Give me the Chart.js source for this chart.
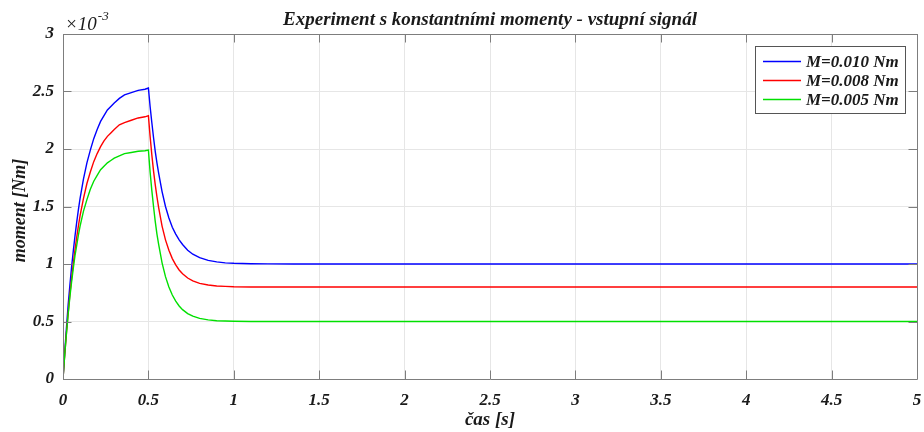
<!DOCTYPE html>
<html>
<head>
<meta charset="utf-8">
<script src="https://cdn.jsdelivr.net/npm/chart.js@4/dist/chart.umd.min.js"></script>
<style>
  html, body { margin: 0; padding: 0; background: #ffffff; }
  #wrap { width: 924px; height: 432px; }
</style>
</head>
<body>
<div id="wrap"><canvas id="c" width="924" height="432"></canvas></div>
<script>
// Sampling instants [s]
const time = [
  0, 0.01, 0.02, 0.03, 0.04, 0.05, 0.06, 0.07, 0.08, 0.09, 0.10, 0.12, 0.14, 0.16, 0.18,
  0.20, 0.22, 0.24, 0.26, 0.28, 0.30, 0.33, 0.36, 0.40, 0.44, 0.48, 0.50,
  0.51, 0.52, 0.53, 0.54, 0.55, 0.56, 0.58, 0.60, 0.62, 0.64, 0.66, 0.68, 0.70,
  0.73, 0.76, 0.80, 0.85, 0.90, 0.95, 1.00, 1.10, 1.20, 1.35, 1.50, 2.00, 3.00, 4.00, 5.00
];

// Input torque in units of 1e-3 Nm
const moment010 = [
  0, 0.23, 0.44, 0.64, 0.81, 0.97, 1.11, 1.24, 1.36, 1.47, 1.57, 1.74, 1.88, 1.99, 2.09,
  2.17, 2.24, 2.29, 2.34, 2.37, 2.40, 2.44, 2.47, 2.49, 2.51, 2.52, 2.53,
  2.37, 2.23, 2.10, 1.98, 1.88, 1.79, 1.63, 1.50, 1.40, 1.32, 1.26, 1.21, 1.17,
  1.12, 1.085, 1.055, 1.031, 1.018, 1.01, 1.006, 1.002, 1.001, 1.0, 1.0, 1.0, 1.0, 1.0, 1.0
];
const moment008 = [
  0, 0.21, 0.40, 0.57, 0.73, 0.87, 1.00, 1.12, 1.23, 1.33, 1.42, 1.57, 1.70, 1.80, 1.89,
  1.96, 2.02, 2.07, 2.11, 2.14, 2.17, 2.21, 2.23, 2.25, 2.27, 2.28, 2.29,
  2.11, 1.95, 1.81, 1.69, 1.585, 1.49, 1.33, 1.21, 1.12, 1.047, 0.992, 0.948, 0.915,
  0.878, 0.853, 0.832, 0.817, 0.809, 0.805, 0.802, 0.80, 0.80, 0.80, 0.80, 0.80, 0.80, 0.80, 0.80
];
const moment005 = [
  0, 0.21, 0.39, 0.56, 0.71, 0.84, 0.96, 1.07, 1.16, 1.25, 1.33, 1.46, 1.56, 1.65, 1.72,
  1.77, 1.82, 1.85, 1.88, 1.90, 1.92, 1.94, 1.96, 1.97, 1.98, 1.985, 1.99,
  1.80, 1.64, 1.50, 1.37, 1.26, 1.17, 1.01, 0.89, 0.80, 0.73, 0.677, 0.635, 0.603,
  0.569, 0.546, 0.527, 0.514, 0.507, 0.504, 0.502, 0.50, 0.50, 0.50, 0.50, 0.50, 0.50, 0.50, 0.50
];

const seriesLabels = ['M=0.010 Nm', 'M=0.008 Nm', 'M=0.005 Nm'];
const seriesColors = ['#0000ff', '#ff0000', '#00e000'];
const seriesValues = [moment010, moment008, moment005];

const xTicks = [0, 0.5, 1, 1.5, 2, 2.5, 3, 3.5, 4, 4.5, 5];
const yTicks = [0, 0.5, 1, 1.5, 2, 2.5, 3];

const titleText = 'Experiment s konstantními momenty - vstupní signál';
const xTitle = 'čas [s]';
const yTitle = 'moment [Nm]';

const SERIF = "'Liberation Serif', 'Times New Roman', serif";
const AXIS_COLOR = '#7d7d7d';
const GRID_COLOR = '#e6e6e6';
const TEXT_COLOR = '#1a1a1a';

const datasets = seriesValues.map((vals, i) => ({
  label: seriesLabels[i],
  data: time.map((t, k) => ({ x: t, y: vals[k] })),
  borderColor: seriesColors[i],
  backgroundColor: seriesColors[i],
  borderWidth: 1.4,
  pointRadius: 0,
  tension: 0,
  fill: false,
  order: seriesValues.length - 1 - i
}));

// Plain number labels: 0, 0.5, 1, 1.5 ...
const plainLabel = v => String(Math.round(v * 10) / 10);

// Decorations: frame, inward ticks, titles, exponent label and legend box
const decorations = {
  id: 'decorations',
  afterDatasetsDraw(chart) {
    const ctx = chart.ctx;
    const a = chart.chartArea;
    const xs = chart.scales.x, ys = chart.scales.y;
    const tl = 8.5;
    ctx.save();
    ctx.strokeStyle = AXIS_COLOR;
    ctx.lineWidth = 1;
    ctx.beginPath();
    ctx.rect(Math.round(a.left) + 0.5, Math.round(a.top) + 0.5,
             Math.round(a.right - a.left), Math.round(a.bottom - a.top));
    ctx.stroke();
    ctx.beginPath();
    xTicks.forEach(v => {
      const px = Math.round(xs.getPixelForValue(v)) + 0.5;
      ctx.moveTo(px, a.bottom); ctx.lineTo(px, a.bottom - tl);
      ctx.moveTo(px, a.top); ctx.lineTo(px, a.top + tl);
    });
    yTicks.forEach(v => {
      const py = Math.round(ys.getPixelForValue(v)) + 0.5;
      ctx.moveTo(a.left, py); ctx.lineTo(a.left + tl, py);
      ctx.moveTo(a.right, py); ctx.lineTo(a.right - tl, py);
    });
    ctx.stroke();

    // titles
    ctx.fillStyle = TEXT_COLOR;
    ctx.textAlign = 'center';
    ctx.textBaseline = 'alphabetic';
    ctx.font = 'italic bold 19px ' + SERIF;
    ctx.fillText(titleText, (a.left + a.right) / 2, 25);
    ctx.font = 'italic bold 19px ' + SERIF;
    ctx.textBaseline = 'middle';
    ctx.fillText(xTitle, (a.left + a.right) / 2, 420);
    ctx.font = 'italic bold 18px ' + SERIF;
    ctx.save();
    ctx.translate(20, (a.top + a.bottom) / 2 + 4);
    ctx.rotate(-Math.PI / 2);
    ctx.fillText(yTitle, 0, 0);
    ctx.restore();

    // exponent of the y axis
    ctx.textAlign = 'left';
    ctx.textBaseline = 'alphabetic';
    ctx.font = 'italic 19px ' + SERIF;
    ctx.fillText('\u00d710', 65, 30);
    const w = ctx.measureText('\u00d710').width;
    ctx.font = 'italic 13px ' + SERIF;
    ctx.fillText('-3', 65 + w + 1, 20);

    // legend
    const lx = 755, ly = 46, lw = 150, lh = 67;
    ctx.fillStyle = '#ffffff';
    ctx.fillRect(lx, ly, lw, lh);
    ctx.strokeStyle = '#555555';
    ctx.lineWidth = 1;
    ctx.strokeRect(lx + 0.5, ly + 0.5, lw, lh);
    ctx.font = 'italic bold 17px ' + SERIF;
    ctx.textBaseline = 'middle';
    chart.data.datasets.forEach((ds, i) => {
      const y = 61.5 + i * 19;
      ctx.strokeStyle = ds.borderColor;
      ctx.lineWidth = 1.4;
      ctx.beginPath();
      ctx.moveTo(763, y); ctx.lineTo(801, y);
      ctx.stroke();
      ctx.fillStyle = TEXT_COLOR;
      ctx.fillText(ds.label, 806, y + 1);
    });
    ctx.restore();
  }
};

new Chart(document.getElementById('c'), {
  type: 'line',
  data: { datasets },
  plugins: [decorations],
  options: {
    responsive: false,
    animation: false,
    devicePixelRatio: 1,
    layout: { padding: { left: 0, right: 7, top: 34, bottom: 0 } },
    plugins: { legend: { display: false }, tooltip: { enabled: false }, title: { display: false } },
    scales: {
      x: {
        type: 'linear',
        min: 0, max: 5,
        afterFit(s) { s.height = 53; s.paddingLeft = 0; s.paddingRight = 0; },
        afterBuildTicks(s) { s.ticks = xTicks.map(v => ({ value: v })); },
        grid: { color: GRID_COLOR, lineWidth: 1, drawTicks: false },
        border: { display: false },
        ticks: {
          padding: 11,
          color: TEXT_COLOR,
          maxRotation: 0,
          callback: plainLabel,
          font: { family: SERIF, size: 17, style: 'italic', weight: 'bold' }
        }
      },
      y: {
        type: 'linear',
        min: 0, max: 3,
        afterFit(s) { s.width = 63; s.paddingTop = 0; s.paddingBottom = 0; },
        afterBuildTicks(s) { s.ticks = yTicks.map(v => ({ value: v })); },
        grid: { color: GRID_COLOR, lineWidth: 1, drawTicks: false },
        border: { display: false },
        ticks: {
          padding: 9,
          color: TEXT_COLOR,
          callback: plainLabel,
          font: { family: SERIF, size: 17, style: 'italic', weight: 'bold' }
        }
      }
    }
  }
});
</script>
</body>
</html>
